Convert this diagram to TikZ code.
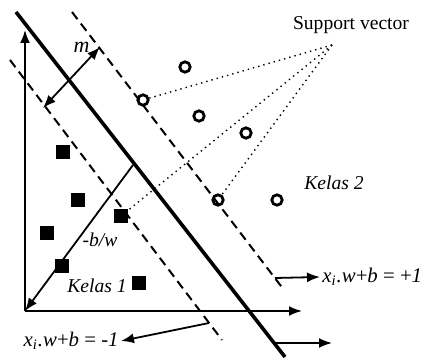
\documentclass[tikz,border=0pt]{standalone}
\usepackage{fontspec}
\setmainfont{Liberation Serif}
\usetikzlibrary{arrows.meta}
\usetikzlibrary{positioning}

\begin{document}
\begin{tikzpicture}[x=0.5pt,y=-0.5pt,>={Latex[length=6.5pt,width=5pt]},font=\fontsize{9.8}{11}\selectfont]
      \tikzstyle{kotak}=[fill=black,draw=none,minimum size=6.8pt,inner sep=0pt]
      \tikzstyle{bulat}=[circle,draw=black,line width=1.4pt,minimum size=5.2pt,inner sep=0pt]
      \tikzstyle{batas}=[dash pattern=on 4.5pt off 2.8pt,line width=1pt]
      \tikzstyle{garis}=[line width=0.9pt]
      \tikzstyle{label}=[inner sep=1pt]

      \useasboundingbox (0,0) rectangle (424,358);

      % sumbu
      \coordinate (O)    at (25,311);
      \coordinate (ytop) at (25,30);
      \coordinate (xend) at (302,311);
      \draw[garis,->] (O) -- (ytop);
      \draw[garis,->] (O) -- (xend);

      % hyperplane dan margin
      \coordinate (h1) at (16,12);   \coordinate (h2) at (285,357);
      \coordinate (p1) at (72,12);   \coordinate (p2) at (284,290);
      \coordinate (n1) at (10,60);   \coordinate (n2) at (222,340);
      \draw[line width=1.8pt] (h1) -- (h2);
      \draw[batas] (p1) -- (p2);
      \draw[batas] (n1) -- (n2);

      % kelas 1
      \node[kotak] (s1) at (63,152)  {};
      \node[kotak] (s2) at (78,200)  {};
      \node[kotak] (s3) at (121,216) {};
      \node[kotak] (s4) at (47,233)  {};
      \node[kotak] (s5) at (62,266)  {};
      \node[kotak] (s6) at (139,283) {};

      % kelas 2
      \node[bulat] (c1) at (185,67)  {};
      \node[bulat] (c2) at (143,100) {};
      \node[bulat] (c3) at (199,116) {};
      \node[bulat] (c4) at (246,133) {};
      \node[bulat] (c5) at (218,200) {};
      \node[bulat] (c6) at (277,200) {};

      % margin m
      \coordinate (m1) at (43,108);
      \coordinate (m2) at (100,47);
      \draw[garis,<->] (m1) -- (m2);
      \node[label,left=4pt of m2,font=\fontsize{11}{12}\selectfont] (mlab) {\textit{m}};

      % -b/w
      \coordinate (bw) at (133,165);
      \draw[garis,->] (bw) -- (O);
      \node[label] (bwlab) at (100,240) {\textit{-b/w}};

      % support vector
      \node[label] (sv) at (351,25) {Support vector};
      \coordinate (svp) at (332,45);
      \draw[dotted,line width=0.7pt] (svp) -- (c2);
      \draw[dotted,line width=0.7pt] (svp) -- (s3);
      \draw[dotted,line width=0.7pt] (svp) -- (c5);

      \node[label] (k1) at (97,286)  {\textit{Kelas 1}};
      \node[label] (k2) at (334,183) {\textit{Kelas 2}};

      % persamaan
      \coordinate (a1) at (209,323);
      \node[label,anchor=east,font=\fontsize{10.4}{12}\selectfont] (lmin) at (121,341) {\textit{x}\textsubscript{\textit{i}}\textit{.w}+\textit{b} = \textit{-1}};
      \draw[garis,->] (a1) -- (lmin.east);
      \coordinate (a2) at (275,278);
      \node[label,anchor=west,font=\fontsize{10.4}{12}\selectfont] (lplus) at (320,277) {\textit{x}\textsubscript{\textit{i}}\textit{.w}+\textit{b} = +\textit{1}};
      \draw[garis,->] (a2) -- (lplus.west);
      \coordinate (b1) at (276,343);
      \coordinate (b2) at (332,343);
      \draw[garis,->] (b1) -- (b2);

\end{tikzpicture}
\end{document}
